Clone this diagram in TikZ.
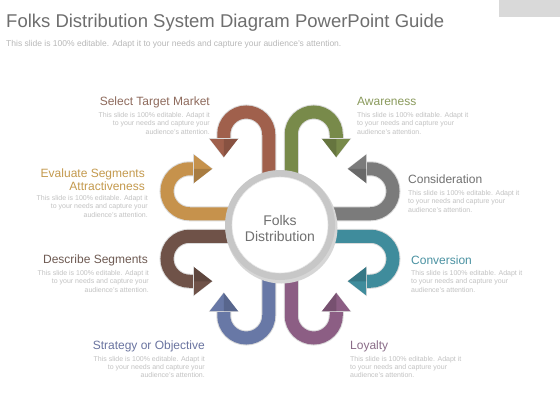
\documentclass[tikz,border=0pt]{standalone}
\usepackage{fontspec}
\setmainfont{Liberation Sans}
\definecolor{cRed}{HTML}{A0604C}
\definecolor{cGreen}{HTML}{788A4A}
\definecolor{cGray}{HTML}{7B7B7B}
\definecolor{cTeal}{HTML}{3F8C9C}
\definecolor{cPurple}{HTML}{8C5E84}
\definecolor{cBlue}{HTML}{6878A6}
\definecolor{cBrown}{HTML}{6F5248}
\definecolor{cOrange}{HTML}{C6924C}
\definecolor{tRed}{HTML}{8E6A5C}
\definecolor{tGreen}{HTML}{8A9A5C}
\definecolor{tGray}{HTML}{707070}
\definecolor{tTeal}{HTML}{4A92A2}
\definecolor{tPurple}{HTML}{8A6C88}
\definecolor{tBlue}{HTML}{6A74A0}
\definecolor{tBrown}{HTML}{6E5A52}
\definecolor{tOrange}{HTML}{C49A4E}
\definecolor{bodygray}{HTML}{C2C2C2}
\definecolor{titlegray}{HTML}{6E6E6E}
\definecolor{subgray}{HTML}{B8B8B8}
\definecolor{boxgray}{HTML}{D9D9D9}
\tikzset{
  band/.style={line width=13pt, rounded corners=22.5pt},
  bandedge/.style={line width=15pt, rounded corners=22.5pt, draw=black!14},
  ttl/.style={font=\fontsize{12}{13}\selectfont, inner sep=0pt},
  bodytxt/.style={font=\fontsize{7}{8.3}\selectfont, text=bodygray, inner sep=0pt},
}
\newcommand\folkarrow[3]{%
  \begin{scope}[shift={(280,225)}, rotate=#2, xscale=#3]
    \draw[bandedge] (-11.25,0) -- (-11.25,-113) -- (-56.25,-113) -- (-56.25,-84);
    \draw[band, draw=#1] (-11.25,0) -- (-11.25,-113) -- (-56.25,-113) -- (-56.25,-84);
    \fill[black!14] (-71.25,-86.8) -- (-41.25,-86.8) -- (-56.25,-67.2) -- cycle;
    \fill[#1] (-70.25,-86) -- (-42.25,-86) -- (-56.25,-68) -- cycle;
    \fill[#1!85!black] (-56.25,-86) -- (-42.25,-86) -- (-56.25,-68) -- cycle;
  \end{scope}}
\newcommand\bodytext{This slide is 100\% editable. Adapt it\\to your needs and capture your\\audience's attention.}
\begin{document}
\begin{tikzpicture}[x=1pt, y=-1pt]
  \path[use as bounding box, fill=white] (0,0) rectangle (560,420);
  \fill[boxgray] (499,0) rectangle (560,17);
  \node[anchor=base west, inner sep=0pt, text=titlegray, font=\fontsize{18.5}{20}\selectfont] (title) at (6,28) {Folks Distribution System Diagram PowerPoint Guide};
  \node[anchor=base west, inner sep=0pt, text=subgray, font=\fontsize{8.5}{9}\selectfont] (subtitle) at (6,46.5) {This slide is 100\% editable. Adapt it to your needs and capture your audience's attention.};

  % arrows
  \folkarrow{cRed}{0}{1}
  \folkarrow{cGreen}{0}{-1}
  \folkarrow{cGray}{-90}{1}
  \folkarrow{cTeal}{-90}{-1}
  \folkarrow{cPurple}{180}{1}
  \folkarrow{cBlue}{180}{-1}
  \folkarrow{cBrown}{90}{1}
  \folkarrow{cOrange}{90}{-1}

  % centre circle
  \fill[black!16] (281.5,227.5) circle (56pt);
  \fill[black!22] (280,225) circle (55pt);
  \fill[white] (280,225) circle (48pt);
  \draw[black!10, line width=0.6pt] (280,225) circle (48pt);
  \node[align=center, text=tGray, font=\fontsize{14}{16}\selectfont, inner sep=0pt] (hub) at (280,228) {Folks\\Distribution};

  % left labels
  \node[ttl, anchor=base east, text=tRed] (l1) at (210,105.5) {Select Target Market};
  \node[bodytxt, anchor=base east, align=right] (b1) at (210,134.1) {\bodytext};
  \node[ttl, anchor=base east, text=tOrange, align=right, font=\fontsize{12}{13}\selectfont] (l2) at (145,190) {Evaluate Segments\\Attractiveness};
  \node[bodytxt, anchor=base east, align=right] (b2) at (148,217.1) {\bodytext};
  \node[ttl, anchor=base east, text=tBrown] (l3) at (148,263.5) {Describe Segments};
  \node[bodytxt, anchor=base east, align=right] (b3) at (149,292.1) {\bodytext};
  \node[ttl, anchor=base east, text=tBlue] (l4) at (205,349) {Strategy or Objective};
  \node[bodytxt, anchor=base east, align=right] (b4) at (205,377.6) {\bodytext};

  % right labels
  \node[ttl, anchor=base west, text=tGreen] (r1) at (357,105.5) {Awareness};
  \node[bodytxt, anchor=base west, align=left] (c1) at (357,134.1) {\bodytext};
  \node[ttl, anchor=base west, text=tGray] (r2) at (408,183) {Consideration};
  \node[bodytxt, anchor=base west, align=left] (c2) at (408,212.1) {\bodytext};
  \node[ttl, anchor=base west, text=tTeal] (r3) at (411,264.5) {Conversion};
  \node[bodytxt, anchor=base west, align=left] (c3) at (411,292.1) {\bodytext};
  \node[ttl, anchor=base west, text=tPurple] (r4) at (350,349) {Loyalty};
  \node[bodytxt, anchor=base west, align=left] (c4) at (350,377.6) {\bodytext};
\end{tikzpicture}
\end{document}
